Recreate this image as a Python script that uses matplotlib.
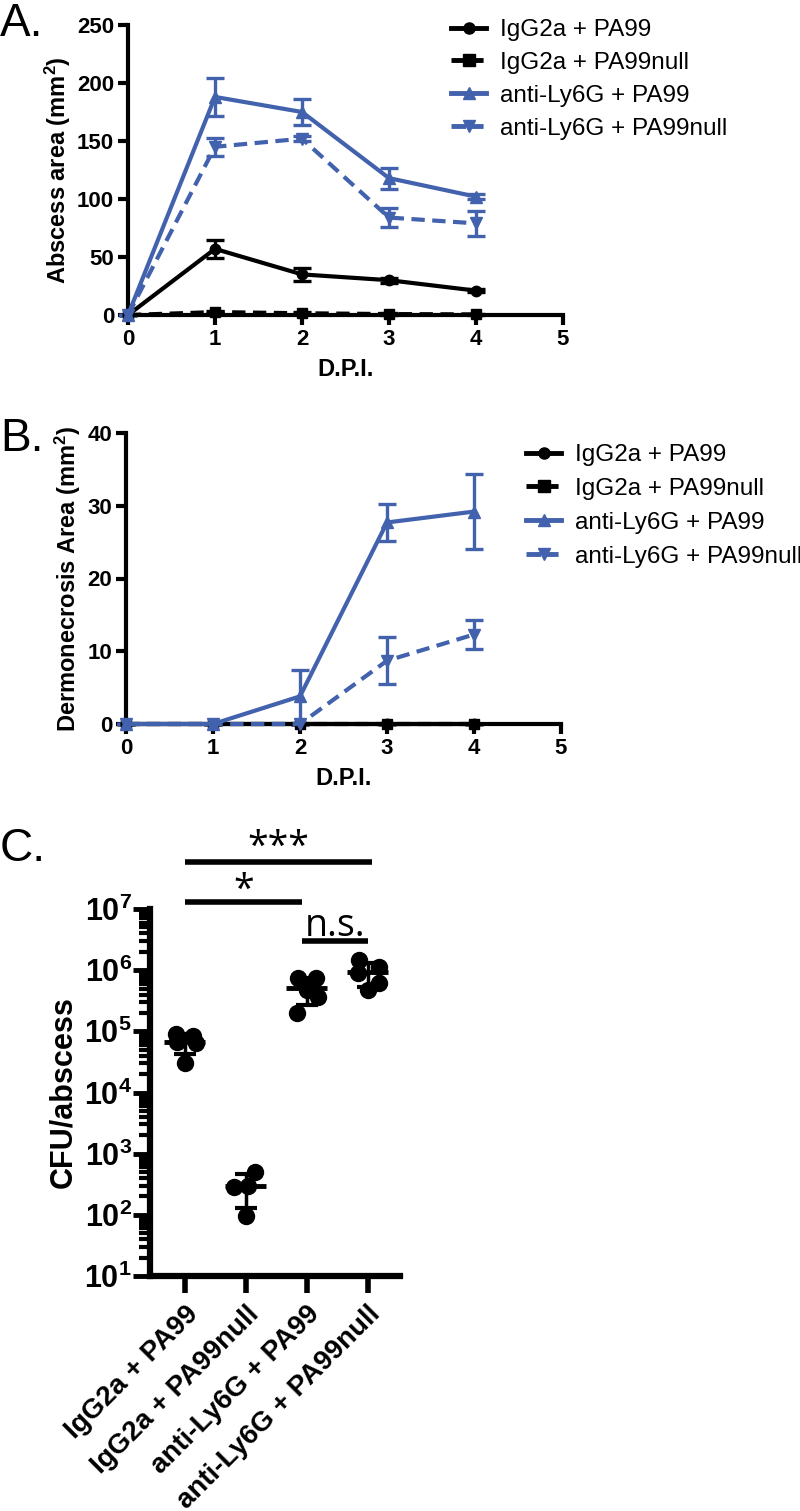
import numpy as np
import matplotlib
matplotlib.use('Agg')
import matplotlib.pyplot as plt
from matplotlib.lines import Line2D
from matplotlib.ticker import FixedLocator, NullFormatter

plt.rcParams['font.family'] = ['Liberation Sans', 'DejaVu Sans']
plt.rcParams['mathtext.fontset'] = 'custom'
plt.rcParams['mathtext.rm'] = 'Liberation Sans'
plt.rcParams['mathtext.bf'] = 'Liberation Sans:bold'
plt.rcParams['mathtext.it'] = 'Liberation Sans:italic'

# ---------------- data ----------------
days = [0, 1, 2, 3, 4]
series_labels = ['IgG2a + PA99', 'IgG2a + PA99null', 'anti-Ly6G + PA99', 'anti-Ly6G + PA99null']

# Panel A: abscess area (mm^2)
abscess_igg_pa99 = [0, 57, 35, 30, 21]
abscess_igg_pa99_err = [0, 8, 5.5, 2, 1]
abscess_igg_null = [0, 2.5, 1.5, 0.8, 0.5]
abscess_igg_null_err = [0, 1, 0.8, 0.5, 0.3]
abscess_anti_pa99 = [0, 188, 175, 118, 102]
abscess_anti_pa99_err = [0, 16.5, 11, 9, 2]
abscess_anti_null = [0, 145, 152, 84, 79]
abscess_anti_null_err = [0, 8, 2, 8, 11]

# Panel B: dermonecrosis area (mm^2)
derm_igg_pa99 = [0, 0, 0, 0, 0]
derm_igg_null = [0, 0, 0, 0, 0]
derm_anti_pa99 = [0, 0, 3.8, 27.7, 29.2]
derm_anti_pa99_err = [0, 0, 3.6, 2.6, 5.1]
derm_anti_null = [0, 0, 0, 8.7, 12.3]
derm_anti_null_err = [0, 0, 0, 3.2, 2.0]

# Panel C: CFU / abscess
cfu_groups = ['IgG2a + PA99', 'IgG2a + PA99null', 'anti-Ly6G + PA99', 'anti-Ly6G + PA99null']
cfu_igg_pa99 = [9.0e4, 8.3e4, 6.6e4, 6.4e4, 3.0e4]
cfu_igg_null = [510, 290, 300, 94]
cfu_anti_pa99 = [7.5e5, 7.4e5, 4.8e5, 3.7e5, 2.0e5]
cfu_anti_null = [1.45e6, 1.13e6, 9.1e5, 6.2e5, 4.8e5]
cfu_jitter = [[-0.15, 0.13, -0.12, 0.19, 0.0],
              [0.16, -0.2, 0.03, 0.0],
              [-0.15, 0.16, 0.0, 0.18, -0.16],
              [-0.15, 0.18, -0.16, 0.18, 0.0]]

blue = '#4262AE'
black = '#000000'
series_colors = [black, black, blue, blue]
series_markers = ['o', 's', '^', 'v']
series_dashed = [False, True, False, True]

fig = plt.figure(figsize=(8, 15.11), dpi=100)
W, H = 800.0, 1511.0

def axrect(l, t, r, b):
    return [l / W, 1 - b / H, (r - l) / W, (b - t) / H]

def style_line_axes(ax, ymax, ystep, ylabel):
    ax.set_xlim(0, 5)
    ax.set_ylim(0, ymax)
    ax.set_xticks(range(0, 6))
    ax.set_yticks(np.arange(0, ymax + 0.1, ystep))
    for s in ['top', 'right']:
        ax.spines[s].set_visible(False)
    for s in ['left', 'bottom']:
        ax.spines[s].set_linewidth(3)
    ax.tick_params(direction='out', length=7, width=3, labelsize=16, pad=3)
    for lab in ax.get_xticklabels() + ax.get_yticklabels():
        lab.set_fontweight('bold')
    ax.set_xlabel('D.P.I.', fontsize=17, fontweight='bold', labelpad=6)
    ax.set_ylabel(ylabel, fontsize=17, fontweight='bold', labelpad=3)

def plot_series(ax, y, err, color, marker, dashed, ms):
    kw = dict(color=color, marker=marker, markersize=ms, linewidth=3,
              clip_on=False, capsize=6.5, elinewidth=2.4,
              capthick=2.4, zorder=3)
    if dashed:
        kw['dashes'] = (3.2, 1.8)
    ax.errorbar(days, y, yerr=err, **kw)

def legend_handles():
    hs = []
    for c, m, d in zip(series_colors, series_markers, series_dashed):
        kw = dict(color=c, marker=m, markersize=8, linewidth=3.5)
        if d:
            kw['dashes'] = (3.0, 0.6)
        hs.append(Line2D([], [], **kw))
    return hs

# ---------------- Panel A ----------------
axA = fig.add_axes(axrect(128, 25, 563, 315))
for y, e, c, m, d in zip([abscess_igg_pa99, abscess_igg_null, abscess_anti_pa99, abscess_anti_null],
                         [abscess_igg_pa99_err, abscess_igg_null_err, abscess_anti_pa99_err, abscess_anti_null_err],
                         series_colors, series_markers, series_dashed):
    plot_series(axA, y, e, c, m, d, 8 if m in '^v' else 7.5)
style_line_axes(axA, 250, 50, r'Abscess area (mm$^{\mathbf{2}}$)')
fig.legend(legend_handles(), series_labels, loc='upper left', bbox_to_anchor=(451 / W, 1 - 19 / H),
           frameon=False, fontsize=17.5, handlelength=1.45, handletextpad=0.55,
           labelspacing=0.45, borderpad=0, borderaxespad=0, numpoints=1)

# ---------------- Panel B ----------------
axB = fig.add_axes(axrect(126, 433, 561, 724))
for y, e, c, m, d in zip([derm_igg_pa99, derm_igg_null, derm_anti_pa99, derm_anti_null],
                         [[0] * 5, [0] * 5, derm_anti_pa99_err, derm_anti_null_err],
                         series_colors, series_markers, series_dashed):
    plot_series(axB, y, e, c, m, d, 8 if m in '^v' else 7.5)
style_line_axes(axB, 40, 10, r'Dermonecrosis Area (mm$^{\mathbf{2}}$)')
fig.legend(legend_handles(), series_labels, loc='upper left', bbox_to_anchor=(526 / W, 1 - 444 / H),
           frameon=False, fontsize=17.5, handlelength=1.45, handletextpad=0.55,
           labelspacing=0.49, borderpad=0, borderaxespad=0, numpoints=1)

# ---------------- Panel C ----------------
axC = fig.add_axes(axrect(150, 909, 400, 1276))
axC.set_yscale('log')
axC.set_ylim(1e1, 1e7)
axC.set_xlim(-0.57, 3.53)
all_groups = [cfu_igg_pa99, cfu_igg_null, cfu_anti_pa99, cfu_anti_null]
for i, (vals, jit) in enumerate(zip(all_groups, cfu_jitter)):
    vals = np.array(vals)
    axC.plot(i + np.array(jit), vals, 'o', color='black', markersize=11.5, zorder=3)
    m = vals.mean()
    sd = vals.std(ddof=1)
    axC.errorbar([i], [m], yerr=[[sd], [sd]], fmt='none', ecolor='black',
                 elinewidth=2.5, capsize=8, capthick=3, zorder=4)
    axC.hlines(m, i - 0.34, i + 0.34, color='black', linewidth=3.5, zorder=4)

for s in ['top', 'right']:
    axC.spines[s].set_visible(False)
for s in ['left', 'bottom']:
    axC.spines[s].set_linewidth(4.5)
axC.set_xticks(range(4))
axC.set_xticklabels(cfu_groups, rotation=45, ha='right', rotation_mode='anchor',
                    fontsize=20, fontweight='bold')
yt = [10.0 ** k for k in range(1, 8)]
axC.yaxis.set_major_locator(FixedLocator(yt))
axC.set_yticklabels([r'$\mathbf{10^{%d}}$' % k for k in range(1, 8)], fontsize=22)
minors = [m * 10.0 ** k for k in range(1, 7) for m in range(2, 10)]
axC.yaxis.set_minor_locator(FixedLocator(minors))
axC.yaxis.set_minor_formatter(NullFormatter())
axC.tick_params(axis='y', which='major', length=12, width=3.5, pad=1)
axC.tick_params(axis='y', which='minor', length=8, width=3)
axC.tick_params(axis='x', which='major', length=12, width=4, pad=6)
axC.set_ylabel('CFU/abscess', fontsize=22, fontweight='bold', labelpad=4)

# significance annotations
sig_bars = [(0.0, 3.07, 10 ** 7.77), (0.0, 1.92, 10 ** 7.11), (1.92, 3.0, 10 ** 6.48)]
sig_texts = ['***', '*', 'n.s.']
sig_text_y = [10 ** 7.84, 10 ** 7.14, 10 ** 6.56]
for (x0, x1, yb), t, ty in zip(sig_bars, sig_texts, sig_text_y):
    axC.plot([x0, x1], [yb, yb], color='black', linewidth=4, clip_on=False,
             solid_capstyle='butt')
    axC.text((x0 + x1) / 2, ty, t, ha='center', va='baseline',
             fontsize=27, family=['Open Sans', 'DejaVu Sans'], clip_on=False)

# panel letters
fig.text(0 / W, 1 - 36 / H, 'A.', fontsize=33, va='baseline')
fig.text(0 / W, 1 - 451 / H, 'B.', fontsize=33, va='baseline')
fig.text(0 / W, 1 - 861 / H, 'C.', fontsize=33, va='baseline')

fig.savefig('out.png', dpi=100)
